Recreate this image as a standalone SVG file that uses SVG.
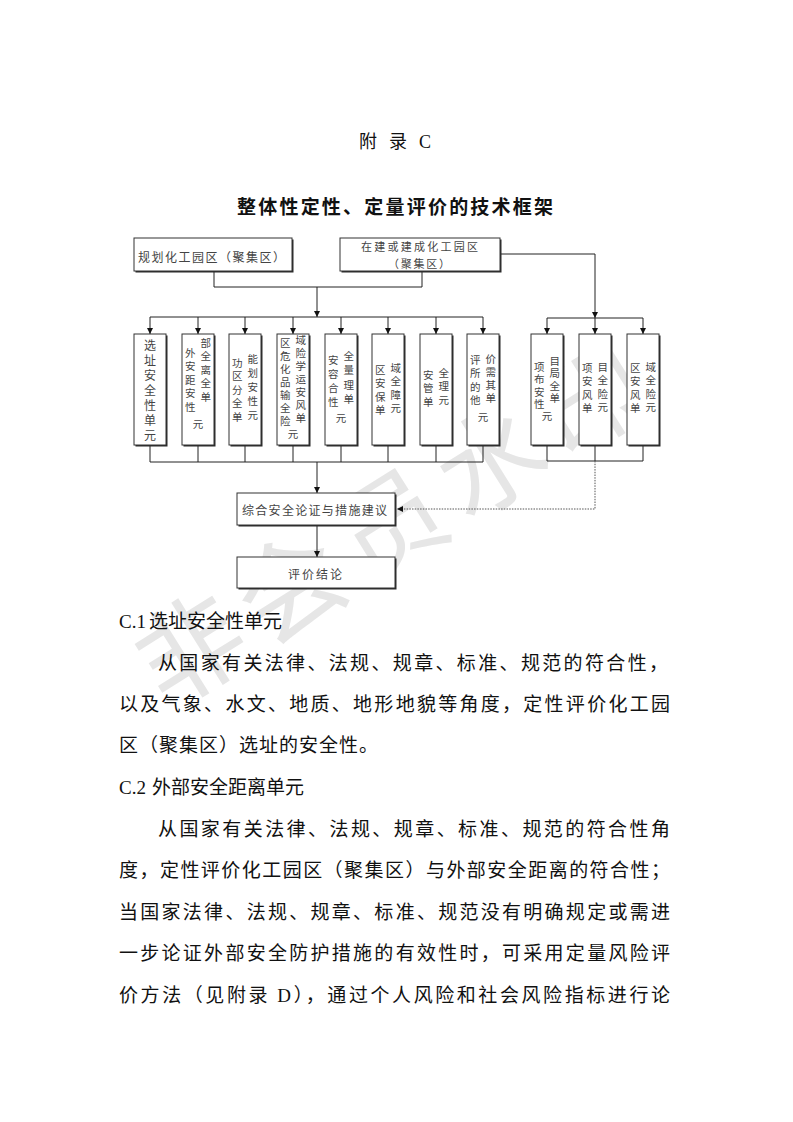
<svg xmlns="http://www.w3.org/2000/svg" width="793" height="1122" viewBox="0 0 793 1122">
<style>
.bg{fill:#ffffff}
.wm{font-family:"Noto Sans CJK SC",sans-serif;font-size:106px;fill:#e6e6e6;text-anchor:middle;dominant-baseline:central;letter-spacing:12px}
.sh{fill:#2a2a2a}
.box{fill:#ffffff;stroke:#333;stroke-width:1}
.ln{fill:none;stroke:#222;stroke-width:1}
.dot{stroke:#555;stroke-dasharray:1.5 1.2}
.c{font-family:"Noto Sans CJK SC",sans-serif;font-size:10.5px;fill:#444;writing-mode:vertical-rl}
.c1{font-family:"Noto Sans CJK SC",sans-serif;font-size:12px;fill:#444;writing-mode:vertical-rl}
.lt{font-family:"Noto Sans CJK SC",sans-serif;font-size:12px;fill:#444;dominant-baseline:central}
.ls{font-family:"Noto Sans CJK SC",sans-serif;font-size:11px;fill:#444;dominant-baseline:central}
.hd{font-family:"Liberation Serif","Noto Sans CJK SC",serif;font-size:18px;fill:#111;text-anchor:middle;dominant-baseline:central}
.tt{font-family:"Noto Sans CJK SC",sans-serif;font-size:19px;font-weight:bold;fill:#111;dominant-baseline:central}
.bd{font-family:"Liberation Serif","Noto Sans CJK SC",serif;font-size:19px;fill:#111;dominant-baseline:central}
</style>
<defs>
<marker id="ah" viewBox="0 0 6 6" refX="6" refY="3" markerWidth="6" markerHeight="6" orient="auto" markerUnits="userSpaceOnUse"><path d="M0,0 L6,3 L0,6 z" fill="#111"/></marker>
</defs>
<rect class="bg" x="0" y="0" width="793" height="1122"/>
<g id="watermark"><text class="wm" x="392" y="515" transform="rotate(-32 392 515)">非会员水印</text></g>

<g id="header">
<text class="hd" x="368" y="142">附</text>
<text class="hd" x="398" y="142">录</text>
<text class="hd" x="425" y="142">C</text>
<text class="tt" x="237" y="205" textLength="316" lengthAdjust="spacing">整体性定性、定量评价的技术框架</text>
</g>

<g id="connectors">
<path class="ln" d="M214 271 V287 H422 V271"/>
<path class="ln" d="M317 287 V317" marker-end="url(#ah)"/>
<path class="ln" d="M150 317 H483"/>
<path class="ln" d="M150 317 V334" marker-end="url(#ah)"/>
<path class="ln" d="M198 317 V334" marker-end="url(#ah)"/>
<path class="ln" d="M245 317 V334" marker-end="url(#ah)"/>
<path class="ln" d="M293 317 V334" marker-end="url(#ah)"/>
<path class="ln" d="M341 317 V334" marker-end="url(#ah)"/>
<path class="ln" d="M388 317 V334" marker-end="url(#ah)"/>
<path class="ln" d="M436 317 V334" marker-end="url(#ah)"/>
<path class="ln" d="M483 317 V334" marker-end="url(#ah)"/>
<path class="ln" d="M501 254 H595 V318" marker-end="url(#ah)"/>
<path class="ln" d="M547 318 H643"/>
<path class="ln" d="M547 318 V334" marker-end="url(#ah)"/>
<path class="ln" d="M595 318 V334" marker-end="url(#ah)"/>
<path class="ln" d="M643 318 V334" marker-end="url(#ah)"/>
<path class="ln" d="M150 446 V462 M198 446 V462 M245 446 V462 M293 446 V462 M341 446 V462 M388 446 V462 M436 446 V462 M483 446 V462 M150 462 H483"/>
<path class="ln" d="M317 462 V493" marker-end="url(#ah)"/>
<path class="ln" d="M547 446 V461 M595 446 V461 M643 446 V461 M547 461 H643"/>
<path class="ln dot" d="M595 461 V509 H397" marker-end="url(#ah)"/>
<path class="ln" d="M317 526 V557" marker-end="url(#ah)"/>
</g>

<g id="n-plan">
<rect class="sh" x="135.5" y="239.5" width="158" height="33"/>
<rect class="box" x="134" y="238" width="158" height="33"/>
<text class="lt" x="138" y="256" textLength="147" lengthAdjust="spacing">规划化工园区（聚集区）</text>
</g>
<g id="n-built">
<rect class="sh" x="341.5" y="239.5" width="160" height="33"/>
<rect class="box" x="340" y="238" width="160" height="33"/>
<text class="ls" x="361" y="246" textLength="117" lengthAdjust="spacing">在建或建成化工园区</text>
<text class="ls" x="388" y="262.5" textLength="62" lengthAdjust="spacing">（聚集区）</text>
</g>

<g id="n-site">
<rect class="sh" x="135.5" y="335.5" width="32" height="111"/>
<rect class="box" x="134" y="334" width="32" height="111"/>
<text class="c1" x="150" y="339">选</text><text class="c1" x="150" y="354">址</text><text class="c1" x="150" y="369">安</text><text class="c1" x="150" y="384">全</text><text class="c1" x="150" y="399">性</text><text class="c1" x="150" y="414">单</text><text class="c1" x="150" y="429">元</text>
</g>
<g id="n-ext">
<rect class="sh" x="183.5" y="335.5" width="32" height="111"/>
<rect class="box" x="182" y="334" width="32" height="111"/>
<text class="c" x="190.3" y="347.75">外</text><text class="c" x="190.3" y="361.25">安</text><text class="c" x="190.3" y="374.75">距</text><text class="c" x="190.3" y="388.25">安</text><text class="c" x="190.3" y="401.75">性</text>
<text class="c" x="205.7" y="337.75">部</text><text class="c" x="205.7" y="351.25">全</text><text class="c" x="205.7" y="364.75">离</text><text class="c" x="205.7" y="378.25">全</text><text class="c" x="205.7" y="391.75">单</text>
<text class="c" x="198" y="418.75">元</text>
</g>
<g id="n-func">
<rect class="sh" x="230.5" y="335.5" width="32" height="111"/>
<rect class="box" x="229" y="334" width="32" height="111"/>
<text class="c" x="237.3" y="357.75">功</text><text class="c" x="237.3" y="371.25">区</text><text class="c" x="237.3" y="384.75">分</text><text class="c" x="237.3" y="398.25">全</text><text class="c" x="237.3" y="411.75">单</text>
<text class="c" x="252.7" y="353.75">能</text><text class="c" x="252.7" y="367.75">划</text><text class="c" x="252.7" y="381.75">安</text><text class="c" x="252.7" y="395.75">性</text><text class="c" x="252.7" y="409.75">元</text>
</g>
<g id="n-haz">
<rect class="sh" x="278.5" y="335.5" width="32" height="111"/>
<rect class="box" x="277" y="334" width="32" height="111"/>
<text class="c" x="285.3" y="337.75">区</text><text class="c" x="285.3" y="350.75">危</text><text class="c" x="285.3" y="363.75">化</text><text class="c" x="285.3" y="376.75">品</text><text class="c" x="285.3" y="389.75">输</text><text class="c" x="285.3" y="402.75">全</text><text class="c" x="285.3" y="415.75">险</text>
<text class="c" x="300.7" y="335">域</text><text class="c" x="300.7" y="347.75">险</text><text class="c" x="300.7" y="360.75">学</text><text class="c" x="300.7" y="373.75">运</text><text class="c" x="300.7" y="386.75">安</text><text class="c" x="300.7" y="399.75">风</text><text class="c" x="300.7" y="412.75">单</text>
<text class="c" x="293" y="428.75">元</text>
</g>
<g id="n-cap">
<rect class="sh" x="326.5" y="335.5" width="32" height="111"/>
<rect class="box" x="325" y="334" width="32" height="111"/>
<text class="c" x="333.3" y="354.75">安</text><text class="c" x="333.3" y="368.75">容</text><text class="c" x="333.3" y="382.75">合</text><text class="c" x="333.3" y="396.75">性</text>
<text class="c" x="348.7" y="350.75">全</text><text class="c" x="348.7" y="365.25">量</text><text class="c" x="348.7" y="379.75">理</text><text class="c" x="348.7" y="394.25">单</text>
<text class="c" x="341" y="412.75">元</text>
</g>
<g id="n-sec">
<rect class="sh" x="373.5" y="335.5" width="32" height="111"/>
<rect class="box" x="372" y="334" width="32" height="111"/>
<text class="c" x="380.3" y="364.75">区</text><text class="c" x="380.3" y="378.25">安</text><text class="c" x="380.3" y="391.75">保</text><text class="c" x="380.3" y="405.25">单</text>
<text class="c" x="395.7" y="362.75">域</text><text class="c" x="395.7" y="376.25">全</text><text class="c" x="395.7" y="389.75">障</text><text class="c" x="395.7" y="403.25">元</text>
</g>
<g id="n-mgmt">
<rect class="sh" x="421.5" y="335.5" width="32" height="111"/>
<rect class="box" x="420" y="334" width="32" height="111"/>
<text class="c" x="428.3" y="369.75">安</text><text class="c" x="428.3" y="383.25">管</text><text class="c" x="428.3" y="396.75">单</text>
<text class="c" x="443.7" y="367.75">全</text><text class="c" x="443.7" y="381.25">理</text><text class="c" x="443.7" y="394.75">元</text>
</g>
<g id="n-other">
<rect class="sh" x="468.5" y="335.5" width="32" height="111"/>
<rect class="box" x="467" y="334" width="32" height="111"/>
<text class="c" x="475.3" y="354.75">评</text><text class="c" x="475.3" y="368.25">所</text><text class="c" x="475.3" y="381.75">的</text><text class="c" x="475.3" y="395.25">他</text>
<text class="c" x="490.7" y="353.75">价</text><text class="c" x="490.7" y="366.75">需</text><text class="c" x="490.7" y="379.75">其</text><text class="c" x="490.7" y="392.75">单</text>
<text class="c" x="483" y="411.75">元</text>
</g>

<g id="n-layout">
<rect class="sh" x="532.5" y="335.5" width="32" height="111"/>
<rect class="box" x="531" y="334" width="32" height="111"/>
<text class="c" x="539.3" y="361.75">项</text><text class="c" x="539.3" y="374.25">布</text><text class="c" x="539.3" y="386.75">安</text><text class="c" x="539.3" y="399.25">性</text>
<text class="c" x="554.7" y="355.75">目</text><text class="c" x="554.7" y="368.25">局</text><text class="c" x="554.7" y="380.75">全</text><text class="c" x="554.7" y="393.25">单</text>
<text class="c" x="547" y="410.75">元</text>
</g>
<g id="n-prisk">
<rect class="sh" x="580.5" y="335.5" width="32" height="111"/>
<rect class="box" x="579" y="334" width="32" height="111"/>
<text class="c" x="587.3" y="362.75">项</text><text class="c" x="587.3" y="376.25">安</text><text class="c" x="587.3" y="389.75">风</text><text class="c" x="587.3" y="403.25">单</text>
<text class="c" x="602.7" y="361.75">目</text><text class="c" x="602.7" y="375.25">全</text><text class="c" x="602.7" y="388.75">险</text><text class="c" x="602.7" y="402.25">元</text>
</g>
<g id="n-arisk">
<rect class="sh" x="628.5" y="335.5" width="32" height="111"/>
<rect class="box" x="627" y="334" width="32" height="111"/>
<text class="c" x="635.3" y="362.75">区</text><text class="c" x="635.3" y="376.25">安</text><text class="c" x="635.3" y="389.75">风</text><text class="c" x="635.3" y="403.25">单</text>
<text class="c" x="650.7" y="361.75">域</text><text class="c" x="650.7" y="375.25">全</text><text class="c" x="650.7" y="388.75">险</text><text class="c" x="650.7" y="402.25">元</text>
</g>

<g id="n-synth">
<rect class="sh" x="238.5" y="494.5" width="158" height="32"/>
<rect class="box" x="237" y="493" width="158" height="32"/>
<text class="lt" x="242" y="509" textLength="145" lengthAdjust="spacing">综合安全论证与措施建议</text>
</g>
<g id="n-concl">
<rect class="sh" x="238.5" y="558.5" width="158" height="31"/>
<rect class="box" x="237" y="557" width="158" height="31"/>
<text class="lt" x="288" y="573" textLength="54" lengthAdjust="spacing">评价结论</text>
</g>

<g id="body">
<text class="bd" x="119" y="621">C.1<tspan x="149">选址安全性单元</tspan></text>
<text class="bd" x="158" y="663" textLength="510" lengthAdjust="spacing">从国家有关法律、法规、规章、标准、规范的符合性，</text>
<text class="bd" x="119" y="704" textLength="551" lengthAdjust="spacing">以及气象、水文、地质、地形地貌等角度，定性评价化工园</text>
<text class="bd" x="119" y="745" textLength="259" lengthAdjust="spacing">区（聚集区）选址的安全性。</text>
<text class="bd" x="119" y="787">C.2<tspan x="152">外部安全距离单元</tspan></text>
<text class="bd" x="158" y="829" textLength="512" lengthAdjust="spacing">从国家有关法律、法规、规章、标准、规范的符合性角</text>
<text class="bd" x="119" y="870" textLength="551" lengthAdjust="spacing">度，定性评价化工园区（聚集区）与外部安全距离的符合性；</text>
<text class="bd" x="119" y="912" textLength="551" lengthAdjust="spacing">当国家法律、法规、规章、标准、规范没有明确规定或需进</text>
<text class="bd" x="119" y="953" textLength="551" lengthAdjust="spacing">一步论证外部安全防护措施的有效性时，可采用定量风险评</text>
<text class="bd" x="119" y="995" textLength="551" lengthAdjust="spacing">价方法（见附录 D），通过个人风险和社会风险指标进行论</text>
</g>
</svg>
